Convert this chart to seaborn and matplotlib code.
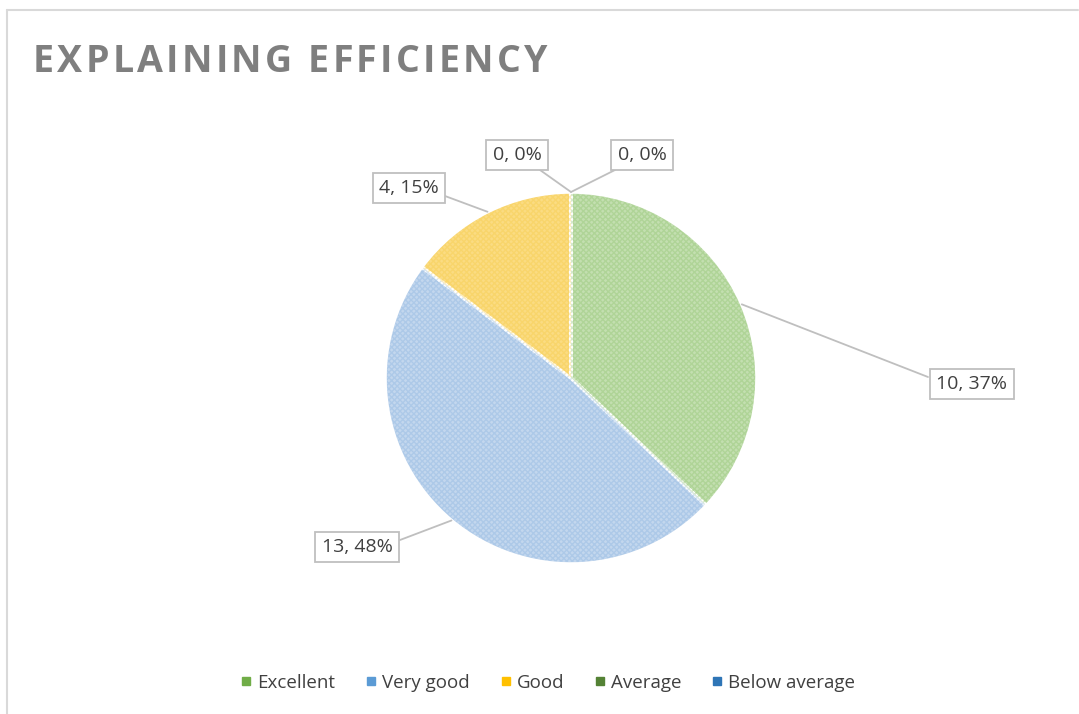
import numpy as np
import matplotlib.pyplot as plt
import seaborn as sns
from matplotlib.lines import Line2D

# -- data
categories = ["Excellent", "Very good", "Good", "Average", "Below average"]
counts = [10, 13, 4, 0, 0]
legend_colors = ["#70ad47", "#5b9bd5", "#ffc000", "#548235", "#2e75b6"]
fill_colors = ["#c3dfb0", "#c3d7ee", "#fbdc82", "#a9c19a", "#97b9db"]
hatch_colors = ["#8cc06a", "#86b1de", "#f5c842", "#6e9a55", "#4f87c0"]
title = "EXPLAINING EFFICIENCY"

sns.set_theme(style="white")
plt.rcParams["font.family"] = ["Open Sans", "DejaVu Sans"]

W, H = 1079, 714
fig = plt.figure(figsize=(W / 100, H / 100), dpi=100)
ax = fig.add_axes([0, 0, 1, 1])
ax.set_xlim(0, W)
ax.set_ylim(0, H)
ax.set_aspect("equal")
ax.axis("off")

# chart border (top and left only visible)
ax.plot([7, 1078], [H - 10, H - 10], color="#d9d9d9", lw=1.5)
ax.plot([7, 7], [H - 10, 0], color="#d9d9d9", lw=1.5)

cx, cy, r = 571, H - 378, 186
wedges, _ = ax.pie(counts, colors=fill_colors, startangle=90, counterclock=False,
                   center=(cx, cy), radius=r, frame=True,
                   wedgeprops=dict(edgecolor="white", linewidth=2.5))
# fine texture
hatched, _ = ax.pie(counts, colors=["none"] * 5, startangle=90, counterclock=False,
                    center=(cx, cy), radius=r - 2, frame=True,
                    wedgeprops=dict(linewidth=0, fill=False))
for w, hc in zip(hatched, hatch_colors):
    w.set_hatch("xxxxxx")
    w.set_edgecolor(hc)
    w.set_alpha(0.35)
ax.set_xlim(0, W)
ax.set_ylim(0, H)
ax.axis("off")

total = sum(counts)
label_pos = [(972, H - 384), (357, H - 547), (409, H - 188), (517, H - 155), (642, H - 155)]
anchor_pos = [(928, H - 377), (400, H - 540), (445, H - 196), (540, H - 170), (615, H - 170)]
cum = 0
for i, (cat, v) in enumerate(zip(categories, counts)):
    mid = cum + v / 2
    cum += v
    ang = np.deg2rad(90 - 360 * mid / total)
    ex, ey = cx + r * np.cos(ang), cy + r * np.sin(ang)
    ax.plot([ex, anchor_pos[i][0]], [ey, anchor_pos[i][1]], color="#bfbfbf", lw=1.3, zorder=3)
    ax.text(label_pos[i][0], label_pos[i][1], f"{v}, {round(100 * v / total)}%",
            ha="center", va="center", fontsize=14, color="#404040", zorder=4,
            bbox=dict(boxstyle="square,pad=0.32", fc="white", ec="#bfbfbf", lw=1.3))

# letter-spaced title, fitted to x 33..547
renderer = fig.canvas.get_renderer()
chars = []
for ch in title:
    t = ax.text(0, H - 62, ch, fontsize=27, fontweight="bold", color="#7f7f7f",
                ha="left", va="center")
    chars.append(t)
widths = [t.get_window_extent(renderer).width for t in chars]
x0, x1 = 33, 547
gap = (x1 - x0 - sum(widths)) / (len(title) - 1)
x = x0
for t, w in zip(chars, widths):
    t.set_x(x)
    x += w + gap

handles = [Line2D([], [], marker="s", ls="", markersize=6, color=c) for c in legend_colors]
fig.legend(handles, categories, loc="center", bbox_to_anchor=(548 / W, 1 - 683 / H),
           ncol=5, frameon=False, fontsize=13.5, handlelength=0.6, handletextpad=0.3,
           columnspacing=1.6, labelcolor="#404040")

fig.savefig("out.png", dpi=100)
